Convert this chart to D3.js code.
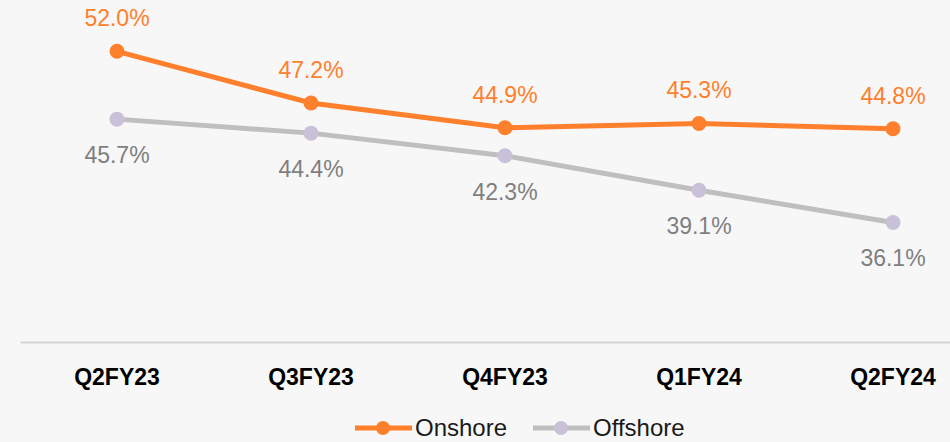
<!DOCTYPE html>
<meta charset="utf-8">
<style>
body { margin: 0; background: #f7f7f7; }
svg { display: block; font-family: "Liberation Sans", Arial, sans-serif; }
.axis path { stroke: #d4d4d4; stroke-width: 2px; }
.axis text { font-size: 23px; font-weight: bold; fill: #000; }
</style>
<svg width="950" height="442"></svg>
<script src="https://d3js.org/d3.v7.min.js"></script>
<script>
// chart data
var categories = ["Q2FY23", "Q3FY23", "Q4FY23", "Q1FY24", "Q2FY24"];
var onshore = [52.0, 47.2, 44.9, 45.3, 44.8];
var offshore = [45.7, 44.4, 42.3, 39.1, 36.1];

var svg = d3.select("svg"),
    width = +svg.attr("width"),
    height = +svg.attr("height");

svg.append("rect").attr("width", width).attr("height", height).attr("fill", "#f7f7f7");

var x = d3.scaleBand().domain(categories).range([20, 990]);
var y = d3.scaleLinear().domain([25, 55]).range([342, 19]);
var cx = function(c) { return x(c) + x.bandwidth() / 2; };

var series = [
  { name: "Onshore", values: onshore, line: "#fe7f2c", dot: "#fe7f2c", label: "#fe7f2c", above: true },
  { name: "Offshore", values: offshore, line: "#bfbfbf", dot: "#c9c1d7", label: "#7f7f7f", above: false }
];

// x axis
svg.append("g")
    .attr("class", "axis")
    .attr("transform", "translate(0,342)")
    .call(d3.axisBottom(x).tickSize(0).tickSizeOuter(0))
  .selectAll("text")
    .attr("y", 43)
    .attr("dy", 0);

var line = d3.line()
    .x(function(d, i) { return cx(categories[i]); })
    .y(function(d) { return y(d); });

// draw offshore first so onshore sits on top
series.slice().reverse().forEach(function(s) {
  var g = svg.append("g");
  g.append("path")
      .datum(s.values)
      .attr("fill", "none")
      .attr("stroke", s.line)
      .attr("stroke-width", 5)
      .attr("d", line);
  g.selectAll("circle")
      .data(s.values)
    .enter().append("circle")
      .attr("cx", function(d, i) { return cx(categories[i]); })
      .attr("cy", function(d) { return y(d); })
      .attr("r", 7.5)
      .attr("fill", s.dot);
  g.selectAll("text")
      .data(s.values)
    .enter().append("text")
      .attr("x", function(d, i) { return cx(categories[i]); })
      .attr("y", function(d) { return s.above ? y(d) - 25 : y(d) + 44; })
      .attr("text-anchor", "middle")
      .attr("font-size", 23)
      .attr("fill", s.label)
      .text(function(d) { return d.toFixed(1) + "%"; });
});

// legend
var legend = svg.append("g").attr("transform", "translate(0,428)");
var legendX = [355, 533];
series.forEach(function(s, i) {
  var lg = legend.append("g").attr("transform", "translate(" + legendX[i] + ",0)");
  lg.append("line")
      .attr("x1", 0).attr("x2", 57)
      .attr("stroke", s.line)
      .attr("stroke-width", 5);
  lg.append("circle")
      .attr("cx", 28).attr("r", 7)
      .attr("fill", s.dot);
  lg.append("text")
      .attr("x", 60)
      .attr("y", 8)
      .attr("font-size", 24)
      .attr("fill", "#1a1a1a")
      .text(s.name);
});
</script>
